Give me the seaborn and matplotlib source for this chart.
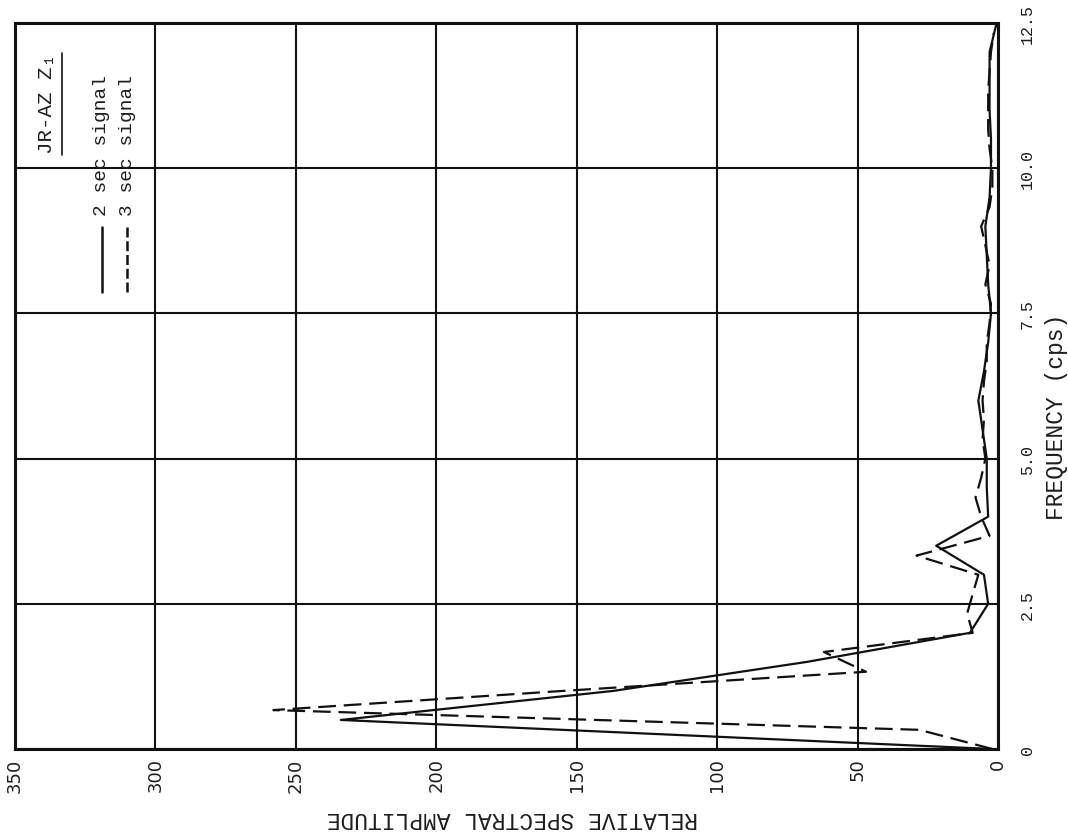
import numpy as np
import pandas as pd
import matplotlib
matplotlib.use("Agg")
import matplotlib.pyplot as plt
import seaborn as sns

# ---- data ----
freq_2sec = [0.0, 0.5, 1.0, 1.5, 2.0, 2.5, 3.0, 3.5, 4.0, 4.5, 5.0, 5.5, 6.0,
             6.5, 7.0, 7.5, 8.0, 8.5, 9.0, 9.5, 10.0, 10.5, 11.0, 11.5, 12.0, 12.5]
amp_2sec = [2, 234, 137, 68, 10, 3.5, 5, 22, 3.5, 4, 4, 5.5, 7,
            5, 3.5, 2.5, 3.5, 4, 4.5, 3, 2.5, 2.5, 3, 3, 3, 0.5]

freq_3sec = [0.0, 0.33, 0.67, 1.0, 1.33, 1.67, 2.0, 2.33, 2.67, 3.0, 3.33, 3.67,
             4.0, 4.33, 4.67, 5.0, 5.33, 5.67, 6.0, 6.33, 6.67, 7.0, 7.33, 7.67,
             8.0, 8.33, 8.67, 9.0, 9.33, 9.67, 10.0, 10.33, 10.67, 11.0, 11.33,
             11.67, 12.0, 12.33]
amp_3sec = [2, 28, 258, 155, 47, 62, 9, 11, 9, 7, 29, 3,
            6, 8, 6, 4.5, 5.5, 5, 5.5, 5, 4, 4, 3, 2.5,
            4.5, 3, 4.5, 6, 3, 2, 2, 3, 3.5, 3.5, 3.5,
            3, 2.5, 1.5]

amp_ticks = [350, 300, 250, 200, 150, 100, 50, 0]
amp_ticklabels = ["350", "300", "250", "200", "150", "100", "50", "0"]
freq_ticks = [0, 2.5, 5.0, 7.5, 10.0, 12.5]
freq_ticklabels = ["0", "2.5", "5.0", "7.5", "10.0", "12.5"]

series_names = ["2 sec signal", "3 sec signal"]
title_text = "JR-AZ Z\u2081"
xlabel_text = "RELATIVE SPECTRAL AMPLITUDE"
ylabel_text = "FREQUENCY (cps)"

df2 = pd.DataFrame({"freq": freq_2sec, "amp": amp_2sec})
df3 = pd.DataFrame({"freq": freq_3sec, "amp": amp_3sec})

# ---- figure ----
sns.set_style("white")
plt.rcParams["font.family"] = ["Liberation Mono", "DejaVu Sans Mono", "DejaVu Sans"]

W, H = 1068, 837
fig = plt.figure(figsize=(W / 100, H / 100), dpi=100)
fig.patch.set_facecolor("white")
L, R, T, B = 15, 998, 24, 750
ax = fig.add_axes([L / W, 1 - B / H, (R - L) / W, (B - T) / H])

ink = "#111111"
txt = "#1e1e1e"
sns.lineplot(data=df2, x="amp", y="freq", sort=False, estimator=None, orient="y",
             color=ink, linewidth=1.6, ax=ax)
sns.lineplot(data=df3, x="amp", y="freq", sort=False, estimator=None, orient="y",
             color=ink, linewidth=1.6, ax=ax, dashes=False)
ax.lines[-1].set_dashes((8, 3.5))

ax.set_xlim(350, 0)
ax.set_ylim(0, 12.5)

ax.set_xticks(amp_ticks)
ax.set_xticklabels(amp_ticklabels, rotation=90, fontsize=13,
                   family=["DejaVu Sans"], color=txt)
ax.set_yticks(freq_ticks)
ax.yaxis.tick_right()
ax.set_yticklabels(freq_ticklabels, rotation=90, fontsize=12, va="center",
                   color=txt)
ax.tick_params(axis="x", length=0, pad=6)
ax.tick_params(axis="y", length=0, pad=16)
ax.set_xlabel("")
ax.set_ylabel("")

ax.grid(True, color=ink, linewidth=1.5)
for s in ax.spines.values():
    s.set_visible(True)
    s.set_color(ink)
    s.set_linewidth(2.2)

def axx(px):
    return (px - L) / (R - L)

def axy(py):
    return (B - py) / (B - T)

ax.text(axx(512), axy(819), xlabel_text, transform=ax.transAxes, rotation=180,
        ha="center", va="center", fontsize=16.5, color=txt, clip_on=False)
ax.text(axx(1057), axy(417), ylabel_text, transform=ax.transAxes, rotation=90,
        ha="center", va="center", fontsize=16.5, color=txt, clip_on=False)

# title block and manual legend (rotated)
ax.text(axx(47), axy(104), title_text, transform=ax.transAxes, rotation=90,
        ha="center", va="center", fontsize=15, color=txt)
ax.plot([axx(62), axx(62)], [axy(156), axy(54)], transform=ax.transAxes,
        color=ink, linewidth=1.2)

ax.plot([axx(102), axx(102)], [axy(293), axy(228)], transform=ax.transAxes,
        color=ink, linewidth=1.8)
ax.text(axx(101), axy(146), series_names[0], transform=ax.transAxes, rotation=90,
        ha="center", va="center", fontsize=14, color=txt)
ln, = ax.plot([axx(127), axx(127)], [axy(293), axy(228)], transform=ax.transAxes,
              color=ink, linewidth=1.8)
ln.set_dashes((4, 1.5))
ax.text(axx(128), axy(146), series_names[1], transform=ax.transAxes, rotation=90,
        ha="center", va="center", fontsize=14, color=txt)

fig.savefig("out.png", dpi=100, facecolor="white")
